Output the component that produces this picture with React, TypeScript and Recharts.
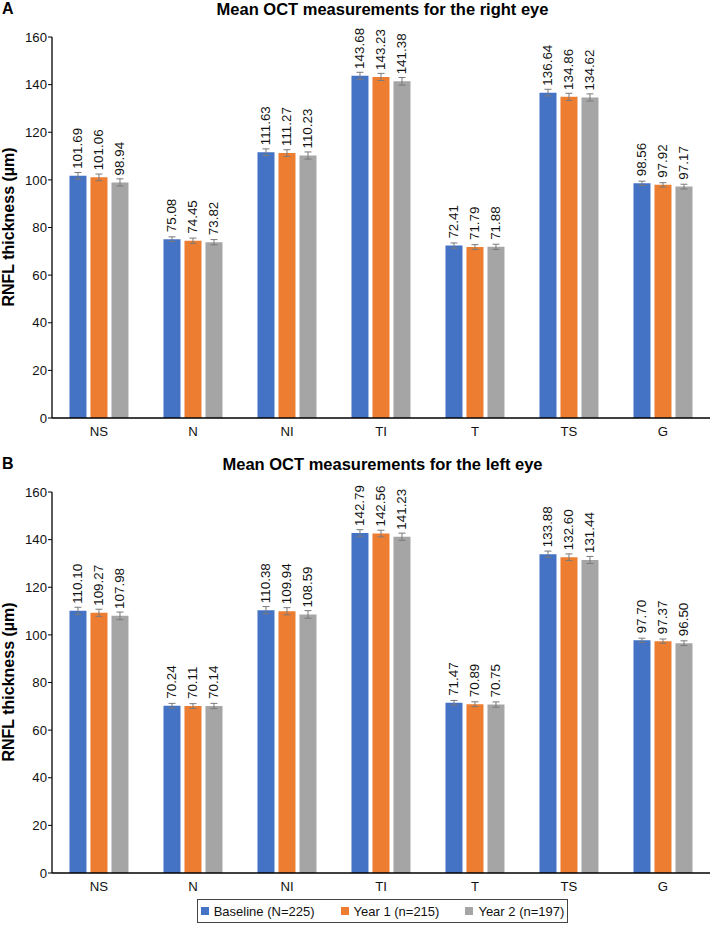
import React from 'react';
import { BarChart, Bar, XAxis, YAxis, ErrorBar, LabelList } from 'recharts';

// Sectors of the RNFL scan
const regions = ['NS', 'N', 'NI', 'TI', 'T', 'TS', 'G'];

// Right eye means (µm)
const rightBaseline = [101.69, 75.08, 111.63, 143.68, 72.41, 136.64, 98.56];
const rightYear1 = [101.06, 74.45, 111.27, 143.23, 71.79, 134.86, 97.92];
const rightYear2 = [98.94, 73.82, 110.23, 141.38, 71.88, 134.62, 97.17];

// Left eye means (µm)
const leftBaseline = [110.1, 70.24, 110.38, 142.79, 71.47, 133.88, 97.7];
const leftYear1 = [109.27, 70.11, 109.94, 142.56, 70.89, 132.6, 97.37];
const leftYear2 = [107.98, 70.14, 108.59, 141.23, 70.75, 131.44, 96.5];

// Error bar half-lengths
const rightErrBaseline = [1.4, 1.0, 1.4, 1.5, 1.1, 1.4, 0.9];
const rightErrYear1 = [1.4, 1.1, 1.4, 1.5, 1.0, 1.5, 0.9];
const rightErrYear2 = [1.5, 1.1, 1.5, 1.6, 1.1, 1.5, 1.0];
const leftErrBaseline = [1.5, 1.0, 1.5, 1.4, 1.0, 1.3, 0.9];
const leftErrYear1 = [1.5, 1.0, 1.5, 1.4, 1.0, 1.4, 0.9];
const leftErrYear2 = [1.6, 1.1, 1.6, 1.5, 1.1, 1.5, 1.0];

const yTicks = [0, 20, 40, 60, 80, 100, 120, 140, 160];

const seriesNames = ['Baseline (N=225)', 'Year 1 (n=215)', 'Year 2 (n=197)'];
const seriesColors = ['#4472C4', '#ED7D31', '#A5A5A5'];

const FONT = '"Liberation Sans", Arial, sans-serif';

const buildRows = (b: number[], y1: number[], y2: number[], eb: number[], e1: number[], e2: number[]) =>
  regions.map((r, i) => ({ region: r, b: b[i], y1: y1[i], y2: y2[i], eb: eb[i], e1: e1[i], e2: e2[i] }));

const rightData = buildRows(rightBaseline, rightYear1, rightYear2, rightErrBaseline, rightErrYear1, rightErrYear2);
const leftData = buildRows(leftBaseline, leftYear1, leftYear2, leftErrBaseline, leftErrYear1, leftErrYear2);

// rotated value label sitting just above the error bar
const ValueLabel = (props: any) => {
  const { x, y, width, value } = props;
  const cx = x + width / 2;
  const cy = y - 7;
  return (
    <text
      x={cx}
      y={cy}
      transform={`rotate(-90 ${cx} ${cy})`}
      textAnchor="start"
      dominantBaseline="central"
      fontSize={13.4}
      fontFamily={FONT}
      fill="#111"
    >
      {Number(value).toFixed(2)}
    </text>
  );
};

const Panel = ({ data, top, letter, title }: { data: any[]; top: number; letter: string; title: string }) => {
  const keys = [
    ['b', 'eb'],
    ['y1', 'e1'],
    ['y2', 'e2'],
  ];
  return (
    <div style={{ position: 'absolute', left: 0, top, width: 715, height: 440 }}>
      <div style={{ position: 'absolute', left: 2, top: 0, fontSize: 16, fontWeight: 'bold', fontFamily: FONT }}>{letter}</div>
      <div
        style={{
          position: 'absolute',
          left: 0,
          width: 765,
          top: 0,
          textAlign: 'center',
          fontSize: 16.5,
          fontWeight: 'bold',
          fontFamily: FONT,
        }}
      >
        {title}
      </div>
      <div
        style={{
          position: 'absolute',
          left: 9 - 100,
          top: 227 - 10,
          width: 200,
          height: 20,
          lineHeight: '20px',
          textAlign: 'center',
          transform: 'rotate(-90deg)',
          fontSize: 16,
          fontWeight: 'bold',
          fontFamily: FONT,
          whiteSpace: 'nowrap',
        }}
      >
        RNFL thickness (µm)
      </div>
      <BarChart
        width={715}
        height={440}
        data={data}
        margin={{ top: 37, right: 5, left: 0, bottom: 2 }}
        barCategoryGap="18.6%"
        barGap={4}
        style={{ position: 'absolute', left: 0, top: 0 }}
      >
        <XAxis
          dataKey="region"
          axisLine={{ stroke: '#000', strokeWidth: 1.3 }}
          tickLine={false}
          tickMargin={3}
          height={20}
          tick={{ fill: '#111', fontSize: 13.2, fontFamily: FONT }}
        />
        <YAxis
          domain={[0, 160]}
          ticks={yTicks}
          width={52}
          axisLine={{ stroke: '#000', strokeWidth: 1.3 }}
          tickLine={{ stroke: '#000' }}
          tickSize={4}
          tickMargin={1}
          tick={{ fill: '#111', fontSize: 13.2, fontFamily: FONT }}
        />
        {keys.map(([k, e], i) => (
          <Bar key={k} dataKey={k} name={seriesNames[i]} fill={seriesColors[i]} isAnimationActive={false}>
            <ErrorBar dataKey={e} width={3.5} stroke="#7a7a7a" strokeWidth={1} direction="y" />
            <LabelList dataKey={k} content={<ValueLabel />} />
          </Bar>
        ))}
      </BarChart>
    </div>
  );
};

export default function App() {
  return (
    <div style={{ position: 'absolute', left: 0, top: 0, width: 715, height: 925, background: '#fff', fontFamily: FONT }}>
      <Panel data={rightData} top={0} letter="A" title="Mean OCT measurements for the right eye" />
      <Panel data={leftData} top={455} letter="B" title="Mean OCT measurements for the left eye" />
      <div
        style={{
          position: 'absolute',
          left: 197,
          top: 899,
          width: 371,
          height: 24,
          border: '1px solid #444',
          display: 'flex',
          alignItems: 'center',
          justifyContent: 'center',
          gap: 26,
          fontSize: 13,
          fontFamily: FONT,
          color: '#111',
          boxSizing: 'border-box',
          whiteSpace: 'nowrap',
        }}
      >
        {seriesNames.map((n, i) => (
          <div key={n} style={{ display: 'flex', alignItems: 'center', flexShrink: 0 }}>
            <div style={{ width: 8, height: 8, background: seriesColors[i], marginRight: 5 }} />
            <span>{n}</span>
          </div>
        ))}
      </div>
    </div>
  );
}
